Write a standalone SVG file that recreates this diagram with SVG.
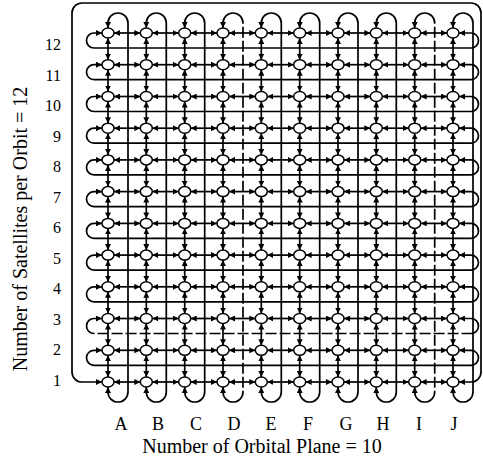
<svg xmlns="http://www.w3.org/2000/svg" width="483" height="462" viewBox="0 0 483 462">
<style>
.l{stroke:#000;stroke-width:1.7;fill:none;marker-start:url(#ah);marker-end:url(#ah)}
.dv{stroke-dasharray:37 3 11 3 11 3 11 3 11 3 11  3 11 3 11 3 11 3 11 3 11  3 11 3 11 3 11 3 11 3 11  3 11 3 11 3 11 3 11 3 11  3 11 3 11 3 11 3 11 3 11  3 11 3 80}
.dh{stroke-dasharray:32 3 11 3 11 3 11 3 11 3 11  3 11 3 11 3 11 3 11 3 11  3 11 3 11 3 11 3 11 3 11  3 11 3 11 3 11 3 11 3 11  3 11 3 11 3 11 3 11 3 11  3 11 3 80}
.n{fill:#fff;stroke:#000;stroke-width:1.5}
text{font-family:"Liberation Serif","Times New Roman",serif;fill:#000}
.rl{font-size:16px;text-anchor:end}
.cl{font-size:18px;text-anchor:middle}
.t{font-size:20px;text-anchor:middle}
</style>
<defs>
<marker id="ah" viewBox="0 0 6 6" refX="6" refY="3" markerWidth="6" markerHeight="6" markerUnits="userSpaceOnUse" orient="auto-start-reverse"><path d="M0,0 L6,3 L0,6 z" fill="#000"/></marker>
</defs>
<rect width="483" height="462" fill="#fff"/>
<g id="connectors">
<!-- frame: row 1 wrap-around -->
<path class="l" d="M102,382 L82,382 A10 10 0 0 1 72,372 L72,13 A10 10 0 0 1 82,3 L471,3 A10 10 0 0 1 481,13 L481,372 A10 10 0 0 1 471,382 L459,382"/>
<!-- row wrap-arounds -->
<path class="l" d="M102,33 L94,33 A7.5 7.5 0 0 0 94,48 L471,48 A7.5 7.5 0 0 0 471,33 L459,33"/>
<path class="l" d="M102,64.7 L94,64.7 A7.5 7.5 0 0 0 94,79.7 L471,79.7 A7.5 7.5 0 0 0 471,64.7 L459,64.7"/>
<path class="l" d="M102,96.5 L94,96.5 A7.5 7.5 0 0 0 94,111.5 L471,111.5 A7.5 7.5 0 0 0 471,96.5 L459,96.5"/>
<path class="l" d="M102,128.2 L94,128.2 A7.5 7.5 0 0 0 94,143.2 L471,143.2 A7.5 7.5 0 0 0 471,128.2 L459,128.2"/>
<path class="l" d="M102,159.9 L94,159.9 A7.5 7.5 0 0 0 94,174.9 L471,174.9 A7.5 7.5 0 0 0 471,159.9 L459,159.9"/>
<path class="l" d="M102,191.6 L94,191.6 A7.5 7.5 0 0 0 94,206.6 L471,206.6 A7.5 7.5 0 0 0 471,191.6 L459,191.6"/>
<path class="l" d="M102,223.4 L94,223.4 A7.5 7.5 0 0 0 94,238.4 L471,238.4 A7.5 7.5 0 0 0 471,223.4 L459,223.4"/>
<path class="l" d="M102,255.1 L94,255.1 A7.5 7.5 0 0 0 94,270.1 L471,270.1 A7.5 7.5 0 0 0 471,255.1 L459,255.1"/>
<path class="l" d="M102,286.8 L94,286.8 A7.5 7.5 0 0 0 94,301.8 L471,301.8 A7.5 7.5 0 0 0 471,286.8 L459,286.8"/>
<path class="l dh" d="M102,318.5 L94,318.5 A7.5 7.5 0 0 0 94,333.5 L471,333.5 A7.5 7.5 0 0 0 471,318.5 L459,318.5"/>
<path class="l" d="M102,350.3 L94,350.3 A7.5 7.5 0 0 0 94,365.3 L471,365.3 A7.5 7.5 0 0 0 471,350.3 L459,350.3"/>
<!-- column wrap-arounds -->
<path class="l" d="M108,28 L108,23 A10 10 0 0 1 128,23 L128,392 A10 10 0 0 1 108,392 L108,387"/>
<path class="l" d="M146.3,28 L146.3,23 A10 10 0 0 1 166.3,23 L166.3,392 A10 10 0 0 1 146.3,392 L146.3,387"/>
<path class="l" d="M184.7,28 L184.7,23 A10 10 0 0 1 204.7,23 L204.7,392 A10 10 0 0 1 184.7,392 L184.7,387"/>
<path class="l dv" d="M223,28 L223,23 A10 10 0 0 1 243,23 L243,392 A10 10 0 0 1 223,392 L223,387"/>
<path class="l" d="M261.3,28 L261.3,23 A10 10 0 0 1 281.3,23 L281.3,392 A10 10 0 0 1 261.3,392 L261.3,387"/>
<path class="l" d="M299.7,28 L299.7,23 A10 10 0 0 1 319.7,23 L319.7,392 A10 10 0 0 1 299.7,392 L299.7,387"/>
<path class="l" d="M338,28 L338,23 A10 10 0 0 1 358,23 L358,392 A10 10 0 0 1 338,392 L338,387"/>
<path class="l" d="M376.3,28 L376.3,23 A10 10 0 0 1 396.3,23 L396.3,392 A10 10 0 0 1 376.3,392 L376.3,387"/>
<path class="l dv" d="M414.7,28 L414.7,23 A10 10 0 0 1 434.7,23 L434.7,392 A10 10 0 0 1 414.7,392 L414.7,387"/>
<path class="l" d="M453,28 L453,23 A10 10 0 0 1 473,23 L473,392 A10 10 0 0 1 453,392 L453,387"/>
<!-- horizontal links -->
<g id="h12"><line class="l" x1="114" y1="33" x2="140.3" y2="33"/><line class="l" x1="152.3" y1="33" x2="178.7" y2="33"/><line class="l" x1="190.7" y1="33" x2="217" y2="33"/><line class="l" x1="229" y1="33" x2="255.3" y2="33"/><line class="l" x1="267.3" y1="33" x2="293.7" y2="33"/><line class="l" x1="305.7" y1="33" x2="332" y2="33"/><line class="l" x1="344" y1="33" x2="370.3" y2="33"/><line class="l" x1="382.3" y1="33" x2="408.7" y2="33"/><line class="l" x1="420.7" y1="33" x2="447" y2="33"/></g>
<g id="h11"><line class="l" x1="114" y1="64.7" x2="140.3" y2="64.7"/><line class="l" x1="152.3" y1="64.7" x2="178.7" y2="64.7"/><line class="l" x1="190.7" y1="64.7" x2="217" y2="64.7"/><line class="l" x1="229" y1="64.7" x2="255.3" y2="64.7"/><line class="l" x1="267.3" y1="64.7" x2="293.7" y2="64.7"/><line class="l" x1="305.7" y1="64.7" x2="332" y2="64.7"/><line class="l" x1="344" y1="64.7" x2="370.3" y2="64.7"/><line class="l" x1="382.3" y1="64.7" x2="408.7" y2="64.7"/><line class="l" x1="420.7" y1="64.7" x2="447" y2="64.7"/></g>
<g id="h10"><line class="l" x1="114" y1="96.5" x2="140.3" y2="96.5"/><line class="l" x1="152.3" y1="96.5" x2="178.7" y2="96.5"/><line class="l" x1="190.7" y1="96.5" x2="217" y2="96.5"/><line class="l" x1="229" y1="96.5" x2="255.3" y2="96.5"/><line class="l" x1="267.3" y1="96.5" x2="293.7" y2="96.5"/><line class="l" x1="305.7" y1="96.5" x2="332" y2="96.5"/><line class="l" x1="344" y1="96.5" x2="370.3" y2="96.5"/><line class="l" x1="382.3" y1="96.5" x2="408.7" y2="96.5"/><line class="l" x1="420.7" y1="96.5" x2="447" y2="96.5"/></g>
<g id="h9"><line class="l" x1="114" y1="128.2" x2="140.3" y2="128.2"/><line class="l" x1="152.3" y1="128.2" x2="178.7" y2="128.2"/><line class="l" x1="190.7" y1="128.2" x2="217" y2="128.2"/><line class="l" x1="229" y1="128.2" x2="255.3" y2="128.2"/><line class="l" x1="267.3" y1="128.2" x2="293.7" y2="128.2"/><line class="l" x1="305.7" y1="128.2" x2="332" y2="128.2"/><line class="l" x1="344" y1="128.2" x2="370.3" y2="128.2"/><line class="l" x1="382.3" y1="128.2" x2="408.7" y2="128.2"/><line class="l" x1="420.7" y1="128.2" x2="447" y2="128.2"/></g>
<g id="h8"><line class="l" x1="114" y1="159.9" x2="140.3" y2="159.9"/><line class="l" x1="152.3" y1="159.9" x2="178.7" y2="159.9"/><line class="l" x1="190.7" y1="159.9" x2="217" y2="159.9"/><line class="l" x1="229" y1="159.9" x2="255.3" y2="159.9"/><line class="l" x1="267.3" y1="159.9" x2="293.7" y2="159.9"/><line class="l" x1="305.7" y1="159.9" x2="332" y2="159.9"/><line class="l" x1="344" y1="159.9" x2="370.3" y2="159.9"/><line class="l" x1="382.3" y1="159.9" x2="408.7" y2="159.9"/><line class="l" x1="420.7" y1="159.9" x2="447" y2="159.9"/></g>
<g id="h7"><line class="l" x1="114" y1="191.6" x2="140.3" y2="191.6"/><line class="l" x1="152.3" y1="191.6" x2="178.7" y2="191.6"/><line class="l" x1="190.7" y1="191.6" x2="217" y2="191.6"/><line class="l" x1="229" y1="191.6" x2="255.3" y2="191.6"/><line class="l" x1="267.3" y1="191.6" x2="293.7" y2="191.6"/><line class="l" x1="305.7" y1="191.6" x2="332" y2="191.6"/><line class="l" x1="344" y1="191.6" x2="370.3" y2="191.6"/><line class="l" x1="382.3" y1="191.6" x2="408.7" y2="191.6"/><line class="l" x1="420.7" y1="191.6" x2="447" y2="191.6"/></g>
<g id="h6"><line class="l" x1="114" y1="223.4" x2="140.3" y2="223.4"/><line class="l" x1="152.3" y1="223.4" x2="178.7" y2="223.4"/><line class="l" x1="190.7" y1="223.4" x2="217" y2="223.4"/><line class="l" x1="229" y1="223.4" x2="255.3" y2="223.4"/><line class="l" x1="267.3" y1="223.4" x2="293.7" y2="223.4"/><line class="l" x1="305.7" y1="223.4" x2="332" y2="223.4"/><line class="l" x1="344" y1="223.4" x2="370.3" y2="223.4"/><line class="l" x1="382.3" y1="223.4" x2="408.7" y2="223.4"/><line class="l" x1="420.7" y1="223.4" x2="447" y2="223.4"/></g>
<g id="h5"><line class="l" x1="114" y1="255.1" x2="140.3" y2="255.1"/><line class="l" x1="152.3" y1="255.1" x2="178.7" y2="255.1"/><line class="l" x1="190.7" y1="255.1" x2="217" y2="255.1"/><line class="l" x1="229" y1="255.1" x2="255.3" y2="255.1"/><line class="l" x1="267.3" y1="255.1" x2="293.7" y2="255.1"/><line class="l" x1="305.7" y1="255.1" x2="332" y2="255.1"/><line class="l" x1="344" y1="255.1" x2="370.3" y2="255.1"/><line class="l" x1="382.3" y1="255.1" x2="408.7" y2="255.1"/><line class="l" x1="420.7" y1="255.1" x2="447" y2="255.1"/></g>
<g id="h4"><line class="l" x1="114" y1="286.8" x2="140.3" y2="286.8"/><line class="l" x1="152.3" y1="286.8" x2="178.7" y2="286.8"/><line class="l" x1="190.7" y1="286.8" x2="217" y2="286.8"/><line class="l" x1="229" y1="286.8" x2="255.3" y2="286.8"/><line class="l" x1="267.3" y1="286.8" x2="293.7" y2="286.8"/><line class="l" x1="305.7" y1="286.8" x2="332" y2="286.8"/><line class="l" x1="344" y1="286.8" x2="370.3" y2="286.8"/><line class="l" x1="382.3" y1="286.8" x2="408.7" y2="286.8"/><line class="l" x1="420.7" y1="286.8" x2="447" y2="286.8"/></g>
<g id="h3"><line class="l" x1="114" y1="318.5" x2="140.3" y2="318.5"/><line class="l" x1="152.3" y1="318.5" x2="178.7" y2="318.5"/><line class="l" x1="190.7" y1="318.5" x2="217" y2="318.5"/><line class="l" x1="229" y1="318.5" x2="255.3" y2="318.5"/><line class="l" x1="267.3" y1="318.5" x2="293.7" y2="318.5"/><line class="l" x1="305.7" y1="318.5" x2="332" y2="318.5"/><line class="l" x1="344" y1="318.5" x2="370.3" y2="318.5"/><line class="l" x1="382.3" y1="318.5" x2="408.7" y2="318.5"/><line class="l" x1="420.7" y1="318.5" x2="447" y2="318.5"/></g>
<g id="h2"><line class="l" x1="114" y1="350.3" x2="140.3" y2="350.3"/><line class="l" x1="152.3" y1="350.3" x2="178.7" y2="350.3"/><line class="l" x1="190.7" y1="350.3" x2="217" y2="350.3"/><line class="l" x1="229" y1="350.3" x2="255.3" y2="350.3"/><line class="l" x1="267.3" y1="350.3" x2="293.7" y2="350.3"/><line class="l" x1="305.7" y1="350.3" x2="332" y2="350.3"/><line class="l" x1="344" y1="350.3" x2="370.3" y2="350.3"/><line class="l" x1="382.3" y1="350.3" x2="408.7" y2="350.3"/><line class="l" x1="420.7" y1="350.3" x2="447" y2="350.3"/></g>
<g id="h1"><line class="l" x1="114" y1="382" x2="140.3" y2="382"/><line class="l" x1="152.3" y1="382" x2="178.7" y2="382"/><line class="l" x1="190.7" y1="382" x2="217" y2="382"/><line class="l" x1="229" y1="382" x2="255.3" y2="382"/><line class="l" x1="267.3" y1="382" x2="293.7" y2="382"/><line class="l" x1="305.7" y1="382" x2="332" y2="382"/><line class="l" x1="344" y1="382" x2="370.3" y2="382"/><line class="l" x1="382.3" y1="382" x2="408.7" y2="382"/><line class="l" x1="420.7" y1="382" x2="447" y2="382"/></g>
<!-- vertical links -->
<g id="vA"><line class="l" x1="108" y1="38" x2="108" y2="59.7"/><line class="l" x1="108" y1="69.7" x2="108" y2="91.5"/><line class="l" x1="108" y1="101.5" x2="108" y2="123.2"/><line class="l" x1="108" y1="133.2" x2="108" y2="154.9"/><line class="l" x1="108" y1="164.9" x2="108" y2="186.6"/><line class="l" x1="108" y1="196.6" x2="108" y2="218.4"/><line class="l" x1="108" y1="228.4" x2="108" y2="250.1"/><line class="l" x1="108" y1="260.1" x2="108" y2="281.8"/><line class="l" x1="108" y1="291.8" x2="108" y2="313.5"/><line class="l" x1="108" y1="323.5" x2="108" y2="345.3"/><line class="l" x1="108" y1="355.3" x2="108" y2="377"/></g>
<g id="vB"><line class="l" x1="146.3" y1="38" x2="146.3" y2="59.7"/><line class="l" x1="146.3" y1="69.7" x2="146.3" y2="91.5"/><line class="l" x1="146.3" y1="101.5" x2="146.3" y2="123.2"/><line class="l" x1="146.3" y1="133.2" x2="146.3" y2="154.9"/><line class="l" x1="146.3" y1="164.9" x2="146.3" y2="186.6"/><line class="l" x1="146.3" y1="196.6" x2="146.3" y2="218.4"/><line class="l" x1="146.3" y1="228.4" x2="146.3" y2="250.1"/><line class="l" x1="146.3" y1="260.1" x2="146.3" y2="281.8"/><line class="l" x1="146.3" y1="291.8" x2="146.3" y2="313.5"/><line class="l" x1="146.3" y1="323.5" x2="146.3" y2="345.3"/><line class="l" x1="146.3" y1="355.3" x2="146.3" y2="377"/></g>
<g id="vC"><line class="l" x1="184.7" y1="38" x2="184.7" y2="59.7"/><line class="l" x1="184.7" y1="69.7" x2="184.7" y2="91.5"/><line class="l" x1="184.7" y1="101.5" x2="184.7" y2="123.2"/><line class="l" x1="184.7" y1="133.2" x2="184.7" y2="154.9"/><line class="l" x1="184.7" y1="164.9" x2="184.7" y2="186.6"/><line class="l" x1="184.7" y1="196.6" x2="184.7" y2="218.4"/><line class="l" x1="184.7" y1="228.4" x2="184.7" y2="250.1"/><line class="l" x1="184.7" y1="260.1" x2="184.7" y2="281.8"/><line class="l" x1="184.7" y1="291.8" x2="184.7" y2="313.5"/><line class="l" x1="184.7" y1="323.5" x2="184.7" y2="345.3"/><line class="l" x1="184.7" y1="355.3" x2="184.7" y2="377"/></g>
<g id="vD"><line class="l" x1="223" y1="38" x2="223" y2="59.7"/><line class="l" x1="223" y1="69.7" x2="223" y2="91.5"/><line class="l" x1="223" y1="101.5" x2="223" y2="123.2"/><line class="l" x1="223" y1="133.2" x2="223" y2="154.9"/><line class="l" x1="223" y1="164.9" x2="223" y2="186.6"/><line class="l" x1="223" y1="196.6" x2="223" y2="218.4"/><line class="l" x1="223" y1="228.4" x2="223" y2="250.1"/><line class="l" x1="223" y1="260.1" x2="223" y2="281.8"/><line class="l" x1="223" y1="291.8" x2="223" y2="313.5"/><line class="l" x1="223" y1="323.5" x2="223" y2="345.3"/><line class="l" x1="223" y1="355.3" x2="223" y2="377"/></g>
<g id="vE"><line class="l" x1="261.3" y1="38" x2="261.3" y2="59.7"/><line class="l" x1="261.3" y1="69.7" x2="261.3" y2="91.5"/><line class="l" x1="261.3" y1="101.5" x2="261.3" y2="123.2"/><line class="l" x1="261.3" y1="133.2" x2="261.3" y2="154.9"/><line class="l" x1="261.3" y1="164.9" x2="261.3" y2="186.6"/><line class="l" x1="261.3" y1="196.6" x2="261.3" y2="218.4"/><line class="l" x1="261.3" y1="228.4" x2="261.3" y2="250.1"/><line class="l" x1="261.3" y1="260.1" x2="261.3" y2="281.8"/><line class="l" x1="261.3" y1="291.8" x2="261.3" y2="313.5"/><line class="l" x1="261.3" y1="323.5" x2="261.3" y2="345.3"/><line class="l" x1="261.3" y1="355.3" x2="261.3" y2="377"/></g>
<g id="vF"><line class="l" x1="299.7" y1="38" x2="299.7" y2="59.7"/><line class="l" x1="299.7" y1="69.7" x2="299.7" y2="91.5"/><line class="l" x1="299.7" y1="101.5" x2="299.7" y2="123.2"/><line class="l" x1="299.7" y1="133.2" x2="299.7" y2="154.9"/><line class="l" x1="299.7" y1="164.9" x2="299.7" y2="186.6"/><line class="l" x1="299.7" y1="196.6" x2="299.7" y2="218.4"/><line class="l" x1="299.7" y1="228.4" x2="299.7" y2="250.1"/><line class="l" x1="299.7" y1="260.1" x2="299.7" y2="281.8"/><line class="l" x1="299.7" y1="291.8" x2="299.7" y2="313.5"/><line class="l" x1="299.7" y1="323.5" x2="299.7" y2="345.3"/><line class="l" x1="299.7" y1="355.3" x2="299.7" y2="377"/></g>
<g id="vG"><line class="l" x1="338" y1="38" x2="338" y2="59.7"/><line class="l" x1="338" y1="69.7" x2="338" y2="91.5"/><line class="l" x1="338" y1="101.5" x2="338" y2="123.2"/><line class="l" x1="338" y1="133.2" x2="338" y2="154.9"/><line class="l" x1="338" y1="164.9" x2="338" y2="186.6"/><line class="l" x1="338" y1="196.6" x2="338" y2="218.4"/><line class="l" x1="338" y1="228.4" x2="338" y2="250.1"/><line class="l" x1="338" y1="260.1" x2="338" y2="281.8"/><line class="l" x1="338" y1="291.8" x2="338" y2="313.5"/><line class="l" x1="338" y1="323.5" x2="338" y2="345.3"/><line class="l" x1="338" y1="355.3" x2="338" y2="377"/></g>
<g id="vH"><line class="l" x1="376.3" y1="38" x2="376.3" y2="59.7"/><line class="l" x1="376.3" y1="69.7" x2="376.3" y2="91.5"/><line class="l" x1="376.3" y1="101.5" x2="376.3" y2="123.2"/><line class="l" x1="376.3" y1="133.2" x2="376.3" y2="154.9"/><line class="l" x1="376.3" y1="164.9" x2="376.3" y2="186.6"/><line class="l" x1="376.3" y1="196.6" x2="376.3" y2="218.4"/><line class="l" x1="376.3" y1="228.4" x2="376.3" y2="250.1"/><line class="l" x1="376.3" y1="260.1" x2="376.3" y2="281.8"/><line class="l" x1="376.3" y1="291.8" x2="376.3" y2="313.5"/><line class="l" x1="376.3" y1="323.5" x2="376.3" y2="345.3"/><line class="l" x1="376.3" y1="355.3" x2="376.3" y2="377"/></g>
<g id="vI"><line class="l" x1="414.7" y1="38" x2="414.7" y2="59.7"/><line class="l" x1="414.7" y1="69.7" x2="414.7" y2="91.5"/><line class="l" x1="414.7" y1="101.5" x2="414.7" y2="123.2"/><line class="l" x1="414.7" y1="133.2" x2="414.7" y2="154.9"/><line class="l" x1="414.7" y1="164.9" x2="414.7" y2="186.6"/><line class="l" x1="414.7" y1="196.6" x2="414.7" y2="218.4"/><line class="l" x1="414.7" y1="228.4" x2="414.7" y2="250.1"/><line class="l" x1="414.7" y1="260.1" x2="414.7" y2="281.8"/><line class="l" x1="414.7" y1="291.8" x2="414.7" y2="313.5"/><line class="l" x1="414.7" y1="323.5" x2="414.7" y2="345.3"/><line class="l" x1="414.7" y1="355.3" x2="414.7" y2="377"/></g>
<g id="vJ"><line class="l" x1="453" y1="38" x2="453" y2="59.7"/><line class="l" x1="453" y1="69.7" x2="453" y2="91.5"/><line class="l" x1="453" y1="101.5" x2="453" y2="123.2"/><line class="l" x1="453" y1="133.2" x2="453" y2="154.9"/><line class="l" x1="453" y1="164.9" x2="453" y2="186.6"/><line class="l" x1="453" y1="196.6" x2="453" y2="218.4"/><line class="l" x1="453" y1="228.4" x2="453" y2="250.1"/><line class="l" x1="453" y1="260.1" x2="453" y2="281.8"/><line class="l" x1="453" y1="291.8" x2="453" y2="313.5"/><line class="l" x1="453" y1="323.5" x2="453" y2="345.3"/><line class="l" x1="453" y1="355.3" x2="453" y2="377"/></g>
</g>
<g id="nodes">
<g id="row12"><g id="A12"><ellipse class="n" cx="108" cy="33" rx="6" ry="5"/></g><g id="B12"><ellipse class="n" cx="146.3" cy="33" rx="6" ry="5"/></g><g id="C12"><ellipse class="n" cx="184.7" cy="33" rx="6" ry="5"/></g><g id="D12"><ellipse class="n" cx="223" cy="33" rx="6" ry="5"/></g><g id="E12"><ellipse class="n" cx="261.3" cy="33" rx="6" ry="5"/></g><g id="F12"><ellipse class="n" cx="299.7" cy="33" rx="6" ry="5"/></g><g id="G12"><ellipse class="n" cx="338" cy="33" rx="6" ry="5"/></g><g id="H12"><ellipse class="n" cx="376.3" cy="33" rx="6" ry="5"/></g><g id="I12"><ellipse class="n" cx="414.7" cy="33" rx="6" ry="5"/></g><g id="J12"><ellipse class="n" cx="453" cy="33" rx="6" ry="5"/></g></g>
<g id="row11"><g id="A11"><ellipse class="n" cx="108" cy="64.7" rx="6" ry="5"/></g><g id="B11"><ellipse class="n" cx="146.3" cy="64.7" rx="6" ry="5"/></g><g id="C11"><ellipse class="n" cx="184.7" cy="64.7" rx="6" ry="5"/></g><g id="D11"><ellipse class="n" cx="223" cy="64.7" rx="6" ry="5"/></g><g id="E11"><ellipse class="n" cx="261.3" cy="64.7" rx="6" ry="5"/></g><g id="F11"><ellipse class="n" cx="299.7" cy="64.7" rx="6" ry="5"/></g><g id="G11"><ellipse class="n" cx="338" cy="64.7" rx="6" ry="5"/></g><g id="H11"><ellipse class="n" cx="376.3" cy="64.7" rx="6" ry="5"/></g><g id="I11"><ellipse class="n" cx="414.7" cy="64.7" rx="6" ry="5"/></g><g id="J11"><ellipse class="n" cx="453" cy="64.7" rx="6" ry="5"/></g></g>
<g id="row10"><g id="A10"><ellipse class="n" cx="108" cy="96.5" rx="6" ry="5"/></g><g id="B10"><ellipse class="n" cx="146.3" cy="96.5" rx="6" ry="5"/></g><g id="C10"><ellipse class="n" cx="184.7" cy="96.5" rx="6" ry="5"/></g><g id="D10"><ellipse class="n" cx="223" cy="96.5" rx="6" ry="5"/></g><g id="E10"><ellipse class="n" cx="261.3" cy="96.5" rx="6" ry="5"/></g><g id="F10"><ellipse class="n" cx="299.7" cy="96.5" rx="6" ry="5"/></g><g id="G10"><ellipse class="n" cx="338" cy="96.5" rx="6" ry="5"/></g><g id="H10"><ellipse class="n" cx="376.3" cy="96.5" rx="6" ry="5"/></g><g id="I10"><ellipse class="n" cx="414.7" cy="96.5" rx="6" ry="5"/></g><g id="J10"><ellipse class="n" cx="453" cy="96.5" rx="6" ry="5"/></g></g>
<g id="row9"><g id="A9"><ellipse class="n" cx="108" cy="128.2" rx="6" ry="5"/></g><g id="B9"><ellipse class="n" cx="146.3" cy="128.2" rx="6" ry="5"/></g><g id="C9"><ellipse class="n" cx="184.7" cy="128.2" rx="6" ry="5"/></g><g id="D9"><ellipse class="n" cx="223" cy="128.2" rx="6" ry="5"/></g><g id="E9"><ellipse class="n" cx="261.3" cy="128.2" rx="6" ry="5"/></g><g id="F9"><ellipse class="n" cx="299.7" cy="128.2" rx="6" ry="5"/></g><g id="G9"><ellipse class="n" cx="338" cy="128.2" rx="6" ry="5"/></g><g id="H9"><ellipse class="n" cx="376.3" cy="128.2" rx="6" ry="5"/></g><g id="I9"><ellipse class="n" cx="414.7" cy="128.2" rx="6" ry="5"/></g><g id="J9"><ellipse class="n" cx="453" cy="128.2" rx="6" ry="5"/></g></g>
<g id="row8"><g id="A8"><ellipse class="n" cx="108" cy="159.9" rx="6" ry="5"/></g><g id="B8"><ellipse class="n" cx="146.3" cy="159.9" rx="6" ry="5"/></g><g id="C8"><ellipse class="n" cx="184.7" cy="159.9" rx="6" ry="5"/></g><g id="D8"><ellipse class="n" cx="223" cy="159.9" rx="6" ry="5"/></g><g id="E8"><ellipse class="n" cx="261.3" cy="159.9" rx="6" ry="5"/></g><g id="F8"><ellipse class="n" cx="299.7" cy="159.9" rx="6" ry="5"/></g><g id="G8"><ellipse class="n" cx="338" cy="159.9" rx="6" ry="5"/></g><g id="H8"><ellipse class="n" cx="376.3" cy="159.9" rx="6" ry="5"/></g><g id="I8"><ellipse class="n" cx="414.7" cy="159.9" rx="6" ry="5"/></g><g id="J8"><ellipse class="n" cx="453" cy="159.9" rx="6" ry="5"/></g></g>
<g id="row7"><g id="A7"><ellipse class="n" cx="108" cy="191.6" rx="6" ry="5"/></g><g id="B7"><ellipse class="n" cx="146.3" cy="191.6" rx="6" ry="5"/></g><g id="C7"><ellipse class="n" cx="184.7" cy="191.6" rx="6" ry="5"/></g><g id="D7"><ellipse class="n" cx="223" cy="191.6" rx="6" ry="5"/></g><g id="E7"><ellipse class="n" cx="261.3" cy="191.6" rx="6" ry="5"/></g><g id="F7"><ellipse class="n" cx="299.7" cy="191.6" rx="6" ry="5"/></g><g id="G7"><ellipse class="n" cx="338" cy="191.6" rx="6" ry="5"/></g><g id="H7"><ellipse class="n" cx="376.3" cy="191.6" rx="6" ry="5"/></g><g id="I7"><ellipse class="n" cx="414.7" cy="191.6" rx="6" ry="5"/></g><g id="J7"><ellipse class="n" cx="453" cy="191.6" rx="6" ry="5"/></g></g>
<g id="row6"><g id="A6"><ellipse class="n" cx="108" cy="223.4" rx="6" ry="5"/></g><g id="B6"><ellipse class="n" cx="146.3" cy="223.4" rx="6" ry="5"/></g><g id="C6"><ellipse class="n" cx="184.7" cy="223.4" rx="6" ry="5"/></g><g id="D6"><ellipse class="n" cx="223" cy="223.4" rx="6" ry="5"/></g><g id="E6"><ellipse class="n" cx="261.3" cy="223.4" rx="6" ry="5"/></g><g id="F6"><ellipse class="n" cx="299.7" cy="223.4" rx="6" ry="5"/></g><g id="G6"><ellipse class="n" cx="338" cy="223.4" rx="6" ry="5"/></g><g id="H6"><ellipse class="n" cx="376.3" cy="223.4" rx="6" ry="5"/></g><g id="I6"><ellipse class="n" cx="414.7" cy="223.4" rx="6" ry="5"/></g><g id="J6"><ellipse class="n" cx="453" cy="223.4" rx="6" ry="5"/></g></g>
<g id="row5"><g id="A5"><ellipse class="n" cx="108" cy="255.1" rx="6" ry="5"/></g><g id="B5"><ellipse class="n" cx="146.3" cy="255.1" rx="6" ry="5"/></g><g id="C5"><ellipse class="n" cx="184.7" cy="255.1" rx="6" ry="5"/></g><g id="D5"><ellipse class="n" cx="223" cy="255.1" rx="6" ry="5"/></g><g id="E5"><ellipse class="n" cx="261.3" cy="255.1" rx="6" ry="5"/></g><g id="F5"><ellipse class="n" cx="299.7" cy="255.1" rx="6" ry="5"/></g><g id="G5"><ellipse class="n" cx="338" cy="255.1" rx="6" ry="5"/></g><g id="H5"><ellipse class="n" cx="376.3" cy="255.1" rx="6" ry="5"/></g><g id="I5"><ellipse class="n" cx="414.7" cy="255.1" rx="6" ry="5"/></g><g id="J5"><ellipse class="n" cx="453" cy="255.1" rx="6" ry="5"/></g></g>
<g id="row4"><g id="A4"><ellipse class="n" cx="108" cy="286.8" rx="6" ry="5"/></g><g id="B4"><ellipse class="n" cx="146.3" cy="286.8" rx="6" ry="5"/></g><g id="C4"><ellipse class="n" cx="184.7" cy="286.8" rx="6" ry="5"/></g><g id="D4"><ellipse class="n" cx="223" cy="286.8" rx="6" ry="5"/></g><g id="E4"><ellipse class="n" cx="261.3" cy="286.8" rx="6" ry="5"/></g><g id="F4"><ellipse class="n" cx="299.7" cy="286.8" rx="6" ry="5"/></g><g id="G4"><ellipse class="n" cx="338" cy="286.8" rx="6" ry="5"/></g><g id="H4"><ellipse class="n" cx="376.3" cy="286.8" rx="6" ry="5"/></g><g id="I4"><ellipse class="n" cx="414.7" cy="286.8" rx="6" ry="5"/></g><g id="J4"><ellipse class="n" cx="453" cy="286.8" rx="6" ry="5"/></g></g>
<g id="row3"><g id="A3"><ellipse class="n" cx="108" cy="318.5" rx="6" ry="5"/></g><g id="B3"><ellipse class="n" cx="146.3" cy="318.5" rx="6" ry="5"/></g><g id="C3"><ellipse class="n" cx="184.7" cy="318.5" rx="6" ry="5"/></g><g id="D3"><ellipse class="n" cx="223" cy="318.5" rx="6" ry="5"/></g><g id="E3"><ellipse class="n" cx="261.3" cy="318.5" rx="6" ry="5"/></g><g id="F3"><ellipse class="n" cx="299.7" cy="318.5" rx="6" ry="5"/></g><g id="G3"><ellipse class="n" cx="338" cy="318.5" rx="6" ry="5"/></g><g id="H3"><ellipse class="n" cx="376.3" cy="318.5" rx="6" ry="5"/></g><g id="I3"><ellipse class="n" cx="414.7" cy="318.5" rx="6" ry="5"/></g><g id="J3"><ellipse class="n" cx="453" cy="318.5" rx="6" ry="5"/></g></g>
<g id="row2"><g id="A2"><ellipse class="n" cx="108" cy="350.3" rx="6" ry="5"/></g><g id="B2"><ellipse class="n" cx="146.3" cy="350.3" rx="6" ry="5"/></g><g id="C2"><ellipse class="n" cx="184.7" cy="350.3" rx="6" ry="5"/></g><g id="D2"><ellipse class="n" cx="223" cy="350.3" rx="6" ry="5"/></g><g id="E2"><ellipse class="n" cx="261.3" cy="350.3" rx="6" ry="5"/></g><g id="F2"><ellipse class="n" cx="299.7" cy="350.3" rx="6" ry="5"/></g><g id="G2"><ellipse class="n" cx="338" cy="350.3" rx="6" ry="5"/></g><g id="H2"><ellipse class="n" cx="376.3" cy="350.3" rx="6" ry="5"/></g><g id="I2"><ellipse class="n" cx="414.7" cy="350.3" rx="6" ry="5"/></g><g id="J2"><ellipse class="n" cx="453" cy="350.3" rx="6" ry="5"/></g></g>
<g id="row1"><g id="A1"><ellipse class="n" cx="108" cy="382" rx="6" ry="5"/></g><g id="B1"><ellipse class="n" cx="146.3" cy="382" rx="6" ry="5"/></g><g id="C1"><ellipse class="n" cx="184.7" cy="382" rx="6" ry="5"/></g><g id="D1"><ellipse class="n" cx="223" cy="382" rx="6" ry="5"/></g><g id="E1"><ellipse class="n" cx="261.3" cy="382" rx="6" ry="5"/></g><g id="F1"><ellipse class="n" cx="299.7" cy="382" rx="6" ry="5"/></g><g id="G1"><ellipse class="n" cx="338" cy="382" rx="6" ry="5"/></g><g id="H1"><ellipse class="n" cx="376.3" cy="382" rx="6" ry="5"/></g><g id="I1"><ellipse class="n" cx="414.7" cy="382" rx="6" ry="5"/></g><g id="J1"><ellipse class="n" cx="453" cy="382" rx="6" ry="5"/></g></g>
</g>
<g id="labels">
<text class="rl" x="61" y="50">12</text>
<text class="rl" x="61" y="80.5">11</text>
<text class="rl" x="61" y="111">10</text>
<text class="rl" x="61" y="141.5">9</text>
<text class="rl" x="61" y="172">8</text>
<text class="rl" x="61" y="202.5">7</text>
<text class="rl" x="61" y="233">6</text>
<text class="rl" x="61" y="263.5">5</text>
<text class="rl" x="61" y="294">4</text>
<text class="rl" x="61" y="324.5">3</text>
<text class="rl" x="61" y="355">2</text>
<text class="rl" x="61" y="385.5">1</text>
<text class="cl" x="121" y="430">A</text>
<text class="cl" x="158" y="430">B</text>
<text class="cl" x="196" y="430">C</text>
<text class="cl" x="234" y="430">D</text>
<text class="cl" x="271" y="430">E</text>
<text class="cl" x="308" y="430">F</text>
<text class="cl" x="346" y="430">G</text>
<text class="cl" x="383" y="430">H</text>
<text class="cl" x="419" y="430">I</text>
<text class="cl" x="454" y="430">J</text>
<text class="t" x="262" y="453">Number of Orbital Plane = 10</text>
<text class="t" transform="translate(27,229) rotate(-90)">Number of Satellites per Orbit = 12</text>
</g>
</svg>
